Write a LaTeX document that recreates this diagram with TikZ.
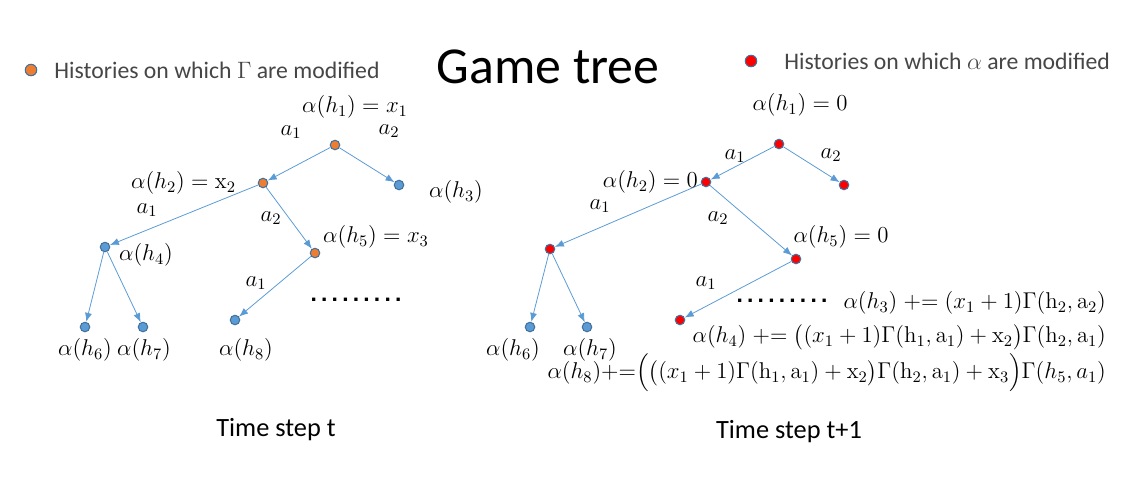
\RequirePackage{fix-cm}
\documentclass[tikz,border=0pt]{standalone}
\usepackage{amsmath}
\usepackage[no-math]{fontspec}
\setmainfont{Carlito}
\newfontfamily\dotfont{Liberation Sans}
\usetikzlibrary{arrows.meta,positioning}
\definecolor{nodeblue}{RGB}{91,155,213}
\definecolor{rimblue}{RGB}{65,113,156}
\definecolor{gammaorange}{RGB}{237,125,49}
\definecolor{alphared}{RGB}{255,0,0}
\definecolor{textgray}{RGB}{70,70,70}
\tikzset{
 hist/.style={
 circle,
 draw=rimblue,
 fill=nodeblue,
 line width=0.6pt,
 inner sep=0pt,
 minimum size=1.9mm
 },
 histgamma/.style={hist, fill=gammaorange},
 histalpha/.style={hist, fill=alphared},
 mlabel/.style={font=\fontsize{13}{15}\selectfont, inner sep=1pt},
 update/.style={font=\fontsize{13}{15}\selectfont, inner sep=1pt, anchor=east},
 legendtext/.style={font=\fontsize{13.5}{16}\selectfont, text=textgray, anchor=west, inner sep=0pt},
 steplabel/.style={font=\fontsize{15}{18}\selectfont},
 branch/.style={-{Latex[length=1.8mm,width=1.4mm]}, line width=0.45pt, draw=nodeblue}
}
\newcommand{\pluseq}{\mathrel{+}=}
\newcommand{\dotrow}{{\dotfont\bfseries .\kern2.4pt.\kern2.4pt.\kern2.4pt.\kern2.4pt.\kern2.4pt.\kern2.4pt.\kern2.4pt.\kern2.4pt.}}

\begin{document}
\begin{tikzpicture}[x=0.02cm, y=-0.02cm]
 \useasboundingbox (0,0) rectangle (1138,488);
 % header
 \node[histgamma, minimum size=2.3mm] (keygamma) at (31,70) {};
 \node[legendtext] (keygammatext) at (54,70) {Histories on which $\Gamma$ are modified};
 \node[font=\fontsize{29.5}{34}\selectfont] (title) at (548,67) {Game tree};
 \node[histalpha, minimum size=2.3mm] (keyalpha) at (751,61) {};
 \node[legendtext] (keyalphatext) at (784,61) {Histories on which $\alpha$ are modified};
 % time step t
 \node[histgamma] (lh1) at (335,145) {};
 \node[histgamma] (lh2) at (263,183) {};
 \node[hist] (lh3) at (399,185) {};
 \node[hist] (lh4) at (105,247) {};
 \node[histgamma] (lh5) at (315,253) {};
 \node[hist] (lh6) at (85,327) {};
 \node[hist] (lh7) at (143,327) {};
 \node[hist] (lh8) at (235,320) {};
 \draw[branch] (lh1) -- (lh2);
 \draw[branch] (lh1) -- (lh3);
 \draw[branch] (lh2) -- (lh4);
 \draw[branch] (lh2) -- (lh5);
 \draw[branch] (lh4) -- (lh6);
 \draw[branch] (lh4) -- (lh7);
 \draw[branch] (lh5) -- (lh8);
 \node[mlabel] (lv1) at (355,107) {$\alpha(h_1)=x_1$};
 \node[mlabel] (la12) at (291,132) {$a_1$};
 \node[mlabel] (la13) at (389,131) {$a_2$};
 \node[mlabel, anchor=east] (lv2) at (238,183) {$\alpha(h_2)=\mathrm{x}_2$};
 \node[mlabel] (lv3) at (456,192) {$\alpha(h_3)$};
 \node[mlabel] (la24) at (147,210) {$a_1$};
 \node[mlabel] (la25) at (271,218) {$a_2$};
 \node[mlabel] (lv5) at (376,237) {$\alpha(h_5)=x_3$};
 \node[mlabel] (lv4) at (146,255) {$\alpha(h_4)$};
 \node[mlabel] (la58) at (256,283) {$a_1$};
 \node[mlabel] (ldots) at (356,300) {\dotrow};
 \node[mlabel] (lv6) at (85,350) {$\alpha(h_6)$};
 \node[mlabel] (lv7) at (144,350) {$\alpha(h_7)$};
 \node[mlabel] (lv8) at (246,350) {$\alpha(h_8)$};
 \node[steplabel] (lstep) at (276,430) {Time step t};
 % time step t+1
 \node[histalpha] (rh1) at (779,144) {};
 \node[histalpha] (rh2) at (706,182) {};
 \node[histalpha] (rh3) at (844,185) {};
 \node[histalpha] (rh4) at (550,249) {};
 \node[histalpha] (rh5) at (796,259) {};
 \node[hist] (rh6) at (530,327) {};
 \node[hist] (rh7) at (587,327) {};
 \node[histalpha] (rh8) at (680,320) {};
 \draw[branch] (rh1) -- (rh2);
 \draw[branch] (rh1) -- (rh3);
 \draw[branch] (rh2) -- (rh4);
 \draw[branch] (rh2) -- (rh5);
 \draw[branch] (rh4) -- (rh6);
 \draw[branch] (rh4) -- (rh7);
 \draw[branch] (rh5) -- (rh8);
 \node[mlabel] (rv1) at (800,105) {$\alpha(h_1)=0$};
 \node[mlabel] (ra12) at (735,156) {$a_1$};
 \node[mlabel] (ra13) at (831,155) {$a_2$};
 \node[mlabel, anchor=east] (rv2) at (700,182) {$\alpha(h_2)=0$};
 \node[mlabel] (ra24) at (600,206) {$a_1$};
 \node[mlabel] (ra25) at (718,218) {$a_2$};
 \node[mlabel] (rv5) at (841,237) {$\alpha(h_5)=0$};
 \node[mlabel] (ra58) at (706,283) {$a_1$};
 \node[mlabel] (rdots) at (782,301) {\dotrow};
 \node[update] (rsum3) at (1108,303)
 {$\alpha(h_3)\pluseq(x_1+1)\Gamma(\mathrm{h}_2,\mathrm{a}_2)$};
 \node[update] (rsum4) at (1108,337)
 {$\alpha(h_4)\pluseq\bigl((x_1+1)\Gamma(\mathrm{h}_1,\mathrm{a}_1)+\mathrm{x}_2\bigr)\Gamma(\mathrm{h}_2,\mathrm{a}_1)$};
 \node[update] (rsum8) at (1108,373)
 {$\alpha(h_8){+}{=}\Bigl(\bigl((x_1+1)\Gamma(\mathrm{h}_1,\mathrm{a}_1)+\mathrm{x}_2\bigr)\Gamma(\mathrm{h}_2,\mathrm{a}_1)+\mathrm{x}_3\Bigr)\Gamma(h_5,a_1)$};
 \node[mlabel] (rv6) at (513,350) {$\alpha(h_6)$};
 \node[mlabel] (rv7) at (590,350) {$\alpha(h_7)$};
 \node[steplabel] (rstep) at (789,432) {Time step t+1};
\end{tikzpicture}
\end{document}
